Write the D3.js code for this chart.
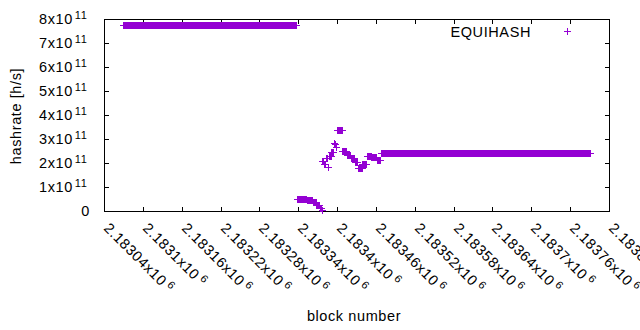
<!DOCTYPE html>
<html><head><meta charset="utf-8">
<script src="https://cdn.jsdelivr.net/npm/d3@7"></script>
<style>
body{margin:0;background:#fff;}
text{font-family:"Liberation Sans",Arial,sans-serif;font-size:14.5px;fill:#000;letter-spacing:0.6px;}
</style></head>
<body><svg id="c" width="640" height="330"></svg>
<script>
// runs of constant hashrate: [start block, end block] and value (h/s)
const runStart = [2183069,2183338,2183353,2183363,2183368,2183373,2183376,
  2183377,2183380,2183383,2183386,2183387,2183391,2183395,2183397,2183398,2183400,
  2183408,2183415,2183421,2183427,2183432,2183439,2183446,2183453,2183461,2183468];
const runEnd   = [2183337,2183352,2183362,2183367,2183372,2183375,2183376,
  2183379,2183382,2183385,2183386,2183390,2183394,2183396,2183397,2183399,2183407,
  2183414,2183420,2183426,2183431,2183438,2183445,2183452,2183460,2183467,2183791];
const runValue = [7.77e11,0.52e11,0.45e11,0.38e11,0.25e11,0.13e11,0.04e11,
  2.1e11,1.95e11,2.2e11,1.85e11,2.3e11,2.45e11,2.85e11,2.78e11,2.65e11,3.38e11,
  2.5e11,2.35e11,2.2e11,2.05e11,1.8e11,1.97e11,2.3e11,2.25e11,2.12e11,2.4e11];
const yTicks = [0,1e11,2e11,3e11,4e11,5e11,6e11,7e11,8e11];
const yTickMant = ["0","1x10","2x10","3x10","4x10","5x10","6x10","7x10","8x10"];
const xTicks = [2183040,2183100,2183160,2183220,2183280,2183340,2183400,2183460,2183520,2183580,2183640,2183700,2183760,2183820];
const xTickMant = ["2.18304x10","2.1831x10","2.18316x10","2.18322x10","2.18328x10","2.18334x10","2.1834x10","2.18346x10","2.18352x10","2.18358x10","2.18364x10","2.1837x10","2.18376x10","2.18382x10"];
const seriesName = "EQUIHASH";
const color = "#9400d3";

const points = [];
runStart.forEach((s,i)=>{ for(let b=s;b<=runEnd[i];b++) points.push({b, v:runValue[i]}); });

const L=104, R=609, T=19, B=211;
const x = d3.scaleLinear().domain([2183040,2183820]).range([L,R]);
const y = d3.scaleLinear().domain([0,8e11]).range([B,T]);
const svg = d3.select("#c");

// frame
svg.append("rect").attr("x",L+0.5).attr("y",T+0.5).attr("width",R-L).attr("height",B-T)
  .attr("fill","none").attr("stroke","#000").attr("stroke-width",1).attr("shape-rendering","crispEdges");

const tl=5;
const tg = svg.append("g").attr("stroke","#000").attr("shape-rendering","crispEdges");
yTicks.forEach(v=>{ const yy=Math.round(y(v))+0.5;
  if(v>0 && v<8e11){
  tg.append("line").attr("x1",L).attr("x2",L+tl).attr("y1",yy).attr("y2",yy);
  tg.append("line").attr("x1",R+1).attr("x2",R+1-tl).attr("y1",yy).attr("y2",yy);}
});
xTicks.forEach(v=>{ const xx=Math.round(x(v))+0.5;
  if(v>2183040 && v<2183820){
  tg.append("line").attr("x1",xx).attr("x2",xx).attr("y1",B+1).attr("y2",B+1-tl);
  tg.append("line").attr("x1",xx).attr("x2",xx).attr("y1",T).attr("y2",T+tl);}
});

// y tick labels
yTicks.forEach((v,i)=>{
  const yy=Math.round(y(v))+5;
  if(v===0){
    svg.append("text").attr("x",90).attr("y",yy).attr("text-anchor","end").text("0");
  } else {
    const t=svg.append("text").attr("x",39).attr("y",yy);
    t.append("tspan").text(yTickMant[i]);
    t.append("tspan").attr("dx",2).attr("dy",-5).style("font-size","11px").text("11");
  }
});
// x tick labels rotated
xTicks.forEach((v,i)=>{
  const xx=Math.round(x(v));
  const t=svg.append("text").attr("transform",`translate(${xx-1},${B+18}) rotate(45)`);
  t.append("tspan").text(xTickMant[i]);
  t.append("tspan").attr("dx",3).attr("dy",-5).style("font-size","11px").text("6");
});

// axis titles
svg.append("text").attr("x",354).attr("y",321).attr("text-anchor","middle").text("block number");
svg.append("text").attr("transform","translate(21,116) rotate(-90)").attr("text-anchor","middle").text("hashrate [h/s]");

// points
const plus="M-3.5,0H3.5M0,-3.5V3.5";
svg.append("g").attr("stroke",color).attr("stroke-width",1).attr("fill","none").attr("shape-rendering","crispEdges")
  .selectAll("path").data(points).join("path")
  .attr("transform",d=>`translate(${Math.round(x(d.b))+0.5},${Math.round(y(d.v))+0.5})`)
  .attr("d",plus);

// legend
svg.append("text").attr("x",531).attr("y",37).attr("text-anchor","end").text(seriesName);
svg.append("path").attr("transform","translate(567.5,31.5)").attr("d",plus)
  .attr("stroke",color).attr("stroke-width",1).attr("shape-rendering","crispEdges");
</script></body></html>
